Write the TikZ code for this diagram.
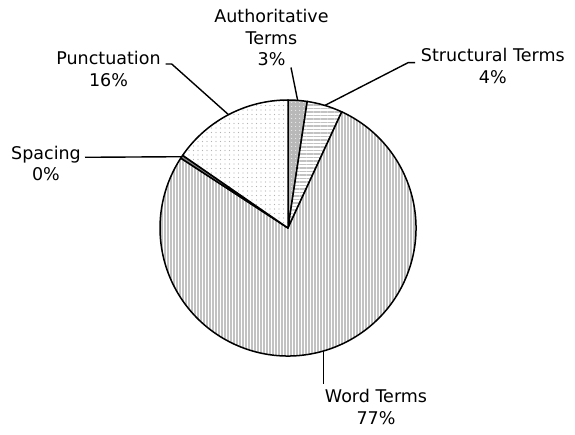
\documentclass[tikz,border=0pt]{standalone}
\usepackage{fontspec}
\setmainfont{DejaVu Sans}
\usetikzlibrary{patterns.meta,calc}
\begin{document}
\begin{tikzpicture}[x=1pt,y=1pt,
  lab/.style={font=\fontsize{17.5}{21.5}\selectfont, align=center, inner sep=0pt, anchor=base},
  slice/.style={draw=black, line width=1.5pt, line join=round},
  leader/.style={draw=black, line width=1.4pt},
  wordfill/.style={pattern={Lines[angle=90,distance=3pt,line width=1.6pt]}, pattern color=black!24},
  strucfill/.style={pattern={Lines[angle=0,distance=3.5pt,line width=1.8pt]}, pattern color=black!24},
  authfill/.style={pattern={Dots[distance=4pt,radius=0.6pt]}, pattern color=white},
  puncfill/.style={pattern={Dots[distance=4.5pt,radius=0.6pt]}, pattern color=black!30}
]
\useasboundingbox (0,0) rectangle (575,434);
\coordinate (c) at (288,206);
% slices
\fill[black!28] (c) -- ++(90:128) arc (90:81.36:128) -- cycle;
\fill[authfill] (c) -- ++(90:128) arc (90:81.36:128) -- cycle;
\draw[slice] (c) -- ++(90:128) arc (90:81.36:128) -- cycle;
\fill[white] (c) -- ++(81.36:128) arc (81.36:65.16:128) -- cycle;
\fill[strucfill] (c) -- ++(81.36:128) arc (81.36:65.16:128) -- cycle;
\draw[slice] (c) -- ++(81.36:128) arc (81.36:65.16:128) -- cycle;
\fill[white] (c) -- ++(65.16:128) arc (65.16:-213.1:128) -- cycle;
\fill[wordfill] (c) -- ++(65.16:128) arc (65.16:-213.1:128) -- cycle;
\draw[slice] (c) -- ++(65.16:128) arc (65.16:-213.1:128) -- cycle;
\fill[black!50] (c) -- ++(-213.1:128) arc (-213.1:-214.6:128) -- cycle;
\draw[slice] (c) -- ++(-213.1:128) arc (-213.1:-214.6:128) -- cycle;
\fill[white] (c) -- ++(-214.6:128) arc (-214.6:-270:128) -- cycle;
\fill[puncfill] (c) -- ++(-214.6:128) arc (-214.6:-270:128) -- cycle;
\draw[slice] (c) -- ++(-214.6:128) arc (-214.6:-270:128) -- cycle;
% leader end points on the rim
\coordinate (ae) at ($(c)+(85.68:128)$);
\coordinate (se) at ($(c)+(73.26:128)$);
\coordinate (we) at ($(c)+(-73.97:128)$);
\coordinate (spe) at ($(c)+(-213.85:128)$);
\coordinate (pe) at ($(c)+(-242.3:128)$);
% labels (base = baseline of the last line)
\node[lab] (aut) at (271.5,368.3) {Authoritative\\Terms\\3\%};
\node[lab] (str) at (492.8,350.8) {Structural Terms\\4\%};
\node[lab] (pun) at (108.5,347.5) {Punctuation\\16\%};
\node[lab] (spa) at (46,253.2) {Spacing\\0\%};
\node[lab] (wor) at (376,9.8) {Word Terms\\77\%};
% leaders
\coordinate (a0) at (291,366.5);
\coordinate (s0) at (415,371.3);
\coordinate (s1) at (408,371.3);
\coordinate (p0) at (165.7,370);
\coordinate (p1) at (171.7,370);
\coordinate (sp0) at (85,276.7);
\coordinate (w0) at ($(we)-(0,32.5)$);
\draw[leader] (a0) -- (ae);
\draw[leader] (s0) -- (s1) -- (se);
\draw[leader] (p0) -- (p1) -- (pe);
\draw[leader] (sp0) -- (spe);
\draw[leader] (we) -- (w0);
\end{tikzpicture}
\end{document}
